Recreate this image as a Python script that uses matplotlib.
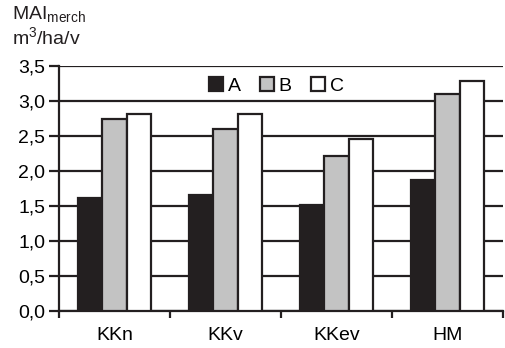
import numpy as np
import matplotlib.pyplot as plt

plt.rcParams['font.family'] = ['Liberation Sans', 'DejaVu Sans']
plt.rcParams['mathtext.fontset'] = 'custom'
plt.rcParams['mathtext.rm'] = 'Liberation Sans'
plt.rcParams['mathtext.it'] = 'Liberation Sans'

categories = ['KKn', 'KKv', 'KKev', 'HM']
series = ['A', 'B', 'C']
vals_a = [1.62, 1.65, 1.51, 1.87]
vals_b = [2.75, 2.60, 2.21, 3.10]
vals_c = [2.82, 2.82, 2.46, 3.29]
yticks = [0.0, 0.5, 1.0, 1.5, 2.0, 2.5, 3.0, 3.5]

colors = ['#231f20', '#c3c3c3', '#ffffff']
edge = '#231f20'


def main():
    fig = plt.figure(figsize=(5.05, 3.48), dpi=100)
    ax = fig.add_axes([0.117, 0.107, 0.879, 0.703])

    x = np.arange(len(categories))
    w = 0.22
    for i, (vals, col, name) in enumerate(zip([vals_a, vals_b, vals_c], colors, series)):
        ax.bar(x + (i - 1) * w, vals, w, color=col, edgecolor=edge,
               linewidth=1.6, label=name, zorder=3)

    ax.set_xlim(-0.5, len(categories) - 0.5)
    ax.set_ylim(0, 3.5)
    ax.set_yticks(yticks)
    ax.set_yticklabels(['{:.1f}'.format(v).replace('.', ',') for v in yticks])
    ax.yaxis.grid(True, color=edge, linewidth=1.6, zorder=0)
    ax.set_axisbelow(True)

    # category labels between boundary ticks
    ax.set_xticks(np.arange(len(categories) + 1) - 0.5)
    ax.set_xticklabels([])
    ax.set_xticks(x, minor=True)
    ax.set_xticklabels(categories, minor=True)
    ax.tick_params(axis='x', which='minor', length=0, pad=12, labelsize=14)
    ax.tick_params(axis='x', which='major', length=5, width=1.6, color=edge)
    ax.tick_params(axis='y', length=7, width=1.6, color=edge, labelsize=14, pad=3)

    for s in ['top', 'right']:
        ax.spines[s].set_visible(False)
    for s in ['left', 'bottom']:
        ax.spines[s].set_linewidth(1.6)
        ax.spines[s].set_color(edge)

    ax.legend(loc='center', bbox_to_anchor=(0.49, 0.918), ncol=3, frameon=False,
              fontsize=14, handlelength=0.7, handleheight=0.7,
              handletextpad=0.25, columnspacing=1.0, borderaxespad=0)

    fig.text(0.024, 0.945, r'MAI$_{\mathrm{merch}}$', fontsize=14, color=edge)
    fig.text(0.024, 0.872, r'm$^3$/ha/v', fontsize=14, color=edge)

    fig.savefig('out.png', dpi=100)


if __name__ == '__main__':
    main()
